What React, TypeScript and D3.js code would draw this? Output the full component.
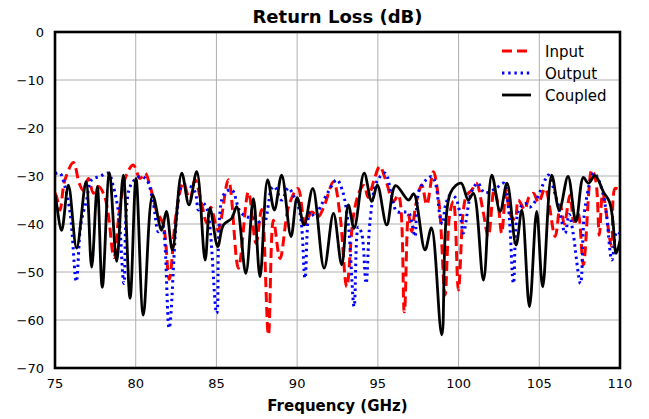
import React, { useEffect } from 'react';
import * as d3 from 'd3';

// frequency (GHz), return loss (dB)
const inputData: [number, number][] = [
    [75.0, -33.5], [75.1, -34.3], [75.31, -37.1], [75.6, -31], [76.14, -27.2], [76.5, -31.5],
    [76.75, -33], [77.07, -30.5], [77.38, -33.6], [77.69, -32.2], [78.05, -34], [78.3, -38],
    [78.65, -47], [79.0, -37], [79.4, -30], [79.85, -27.7], [80.27, -30.5], [80.58, -29.4],
    [80.9, -32.2], [81.3, -37.4], [81.7, -40], [82.08, -51.5], [82.5, -38], [82.95, -31.5],
    [83.36, -35], [83.67, -30.8], [84.1, -36], [84.4, -39.8], [84.65, -36.5], [85.1, -41.3],
    [85.74, -30.8], [86.36, -49.2], [86.98, -33.3], [87.45, -44], [87.8, -37], [88.22, -63.1],
    [88.53, -39.2], [88.94, -47.2], [89.5, -36], [90.05, -32.6], [90.5, -40], [90.9, -37.5],
    [91.3, -38.5], [91.7, -36], [92.25, -31.2], [92.65, -38], [93.07, -53.1], [93.5, -38],
    [93.9, -32.9], [94.15, -32], [94.4, -34.5], [94.75, -31], [95.12, -28], [95.5, -31],
    [95.96, -35.3], [96.27, -34], [96.64, -58.3], [96.9, -38.1], [97.1, -41.6], [97.35, -36],
    [97.72, -31.9], [98.03, -36], [98.44, -29.1], [98.8, -36], [99.16, -54.8], [99.45, -38],
    [99.68, -35.3], [99.99, -53.75], [100.3, -37], [100.5, -34], [100.8, -33], [101.1, -31.5],
    [101.5, -37], [101.84, -42.6], [102.2, -33], [102.45, -36], [102.67, -41.9], [102.95, -33],
    [103.2, -38], [103.5, -39], [103.7, -35], [104.1, -37], [104.35, -34.5], [104.64, -33.6],
    [104.95, -35.5], [105.36, -32.6], [105.98, -42.6], [106.3, -36], [106.55, -40], [106.9, -34],
    [107.15, -39.5], [107.4, -37.8], [107.73, -48.5], [108.25, -28.75], [108.5, -31], [108.72, -42.3],
    [108.93, -33.6], [109.48, -44.7], [109.7, -32.6], [110.0, -33],
];

const outputData: [number, number][] = [
    [75.0, -29.5], [75.3, -29.4], [75.6, -32], [75.95, -38], [76.32, -52], [76.6, -40],
    [76.96, -35], [77.27, -30.8], [77.79, -30.1], [78.3, -29.4], [78.6, -32], [78.95, -38],
    [79.27, -52.4], [79.65, -32.2], [80.27, -30.1], [80.68, -30.8], [81.09, -35.7], [81.4, -41.6],
    [81.65, -40], [82.07, -61.7], [82.54, -38.5], [82.85, -32.2], [83.3, -32], [83.67, -33.3],
    [83.88, -37.1], [84.1, -35.5], [84.4, -36.7], [85.02, -58.6], [85.43, -34], [85.95, -32.9],
    [86.46, -37.4], [86.9, -38.5], [87.4, -38.8], [87.9, -40.2], [88.42, -32.6], [88.6, -32.2],
    [89.04, -35], [89.46, -32.5], [89.76, -34], [90.18, -37.8], [90.49, -51.3], [90.8, -37.4],
    [91.1, -38.5], [91.5, -36], [91.93, -33.3], [92.45, -30.8], [92.8, -33], [93.17, -40.2],
    [93.53, -57.2], [93.79, -40.6], [94.0, -42], [94.27, -52.4], [94.52, -39.2], [94.93, -31.2],
    [95.45, -29.4], [95.86, -34.3], [96.17, -37.4], [96.6, -37.5], [96.9, -37.6], [97.1, -39.5],
    [97.3, -42.6], [97.6, -32.6], [98.34, -30.1], [98.6, -32], [98.85, -38.5], [99.0, -40],
    [99.2, -36], [99.47, -34], [99.8, -34.5], [100.1, -38.1], [100.3, -41.9], [100.8, -33.3],
    [101.2, -31.5], [101.6, -33.5], [102.3, -32.6], [102.8, -31.5], [103.1, -37], [103.4, -52.4],
    [103.7, -37.4], [104.1, -35.7], [104.4, -36.5], [104.8, -35], [105.36, -30.8], [105.56, -29.8],
    [106.0, -34], [106.3, -38], [106.6, -41.9], [106.85, -38], [107.1, -42], [107.55, -52.4],
    [107.84, -36.4], [108.38, -29.4], [108.7, -31], [109.08, -36], [109.5, -47.5], [109.8, -41.6],
    [110.0, -42],
];

const coupledData: [number, number][] = [
    [75.0, -34], [75.06, -35], [75.41, -41.3], [75.83, -31.9], [76.34, -45], [76.92, -31.2],
    [77.27, -49], [77.62, -32.2], [77.93, -53.2], [78.37, -29.3], [78.82, -47.8], [79.23, -29.8],
    [79.65, -55.5], [80.02, -30.5], [80.47, -59], [81.05, -34], [81.6, -41.3], [81.9, -37.4],
    [82.27, -45.4], [82.85, -29.4], [83.3, -36], [83.78, -29.1], [84.3, -47.5], [84.6, -36.7],
    [85.08, -44.7], [85.43, -40.2], [85.95, -38.8], [86.26, -36.4], [86.82, -50.3], [87.29, -34.7],
    [87.7, -51], [88.17, -30.8], [88.59, -37.1], [89.04, -29.8], [89.62, -42.6], [90.0, -34.5],
    [90.43, -40.2], [90.97, -32.6], [91.67, -49.2], [92.25, -37.8], [92.76, -48.5], [93.17, -36],
    [93.53, -40.9], [94.15, -29.4], [94.62, -35.3], [94.97, -31.9], [95.55, -40.2], [96.1, -32],
    [96.9, -35], [97.22, -33.7], [97.92, -45.4], [98.32, -40.8], [98.96, -63.1], [99.5, -33.5],
    [100.15, -31.5], [100.6, -35], [100.92, -33.6], [101.54, -51.7], [102.06, -29.8], [102.57, -37.4],
    [103.0, -31.5], [103.56, -44.4], [103.92, -37.1], [104.39, -57.2], [104.84, -37.4], [105.21, -53.1],
    [105.77, -29.8], [106.24, -37.1], [106.78, -30.1], [107.27, -39.5], [107.73, -30.3], [108.04, -31.5],
    [108.46, -29.9], [108.97, -33.3], [109.34, -35.3], [109.55, -39], [109.76, -46.1], [110.0, -43.5],
];

const xTicks = [75, 80, 85, 90, 95, 100, 105, 110];
const yTicks = [0, -10, -20, -30, -40, -50, -60, -70];

const seriesNames = ['Input', 'Output', 'Coupled'];

const font = 'DejaVu Sans, sans-serif';

const App: React.FC = () => {
    useEffect(() => {
        document.body.style.margin = '0';
    }, []);

    const width = 649;
    const height = 419;
    const left = 55;
    const right = 620;
    const top = 32;
    const bottom = 368;

    const x = d3.scaleLinear().domain([75, 110]).range([left, right]);
    const y = d3.scaleLinear().domain([-70, 0]).range([bottom, top]);

    const line = d3.line<[number, number]>()
        .x(d => x(d[0]))
        .y(d => y(d[1]))
        .curve(d3.curveCatmullRom.alpha(0.5));

    const styles = [
        { data: inputData, stroke: '#ff0000', width: 3, dash: '10,5' },
        { data: outputData, stroke: '#0000ff', width: 3, dash: '2.4,3.8' },
        { data: coupledData, stroke: '#000000', width: 2.8, dash: '' },
    ];

    return (
        <svg width={width} height={height} style={{ display: 'block', background: 'white' }}>
            <defs>
                <clipPath id="plotClip">
                    <rect x={left} y={top} width={right - left} height={bottom - top} />
                </clipPath>
            </defs>

            {/* grid */}
            {xTicks.map(t => (
                <line key={'gx' + t} x1={x(t)} x2={x(t)} y1={top} y2={bottom} stroke="#b0b0b0" strokeWidth={1} />
            ))}
            {yTicks.map(t => (
                <line key={'gy' + t} x1={left} x2={right} y1={y(t)} y2={y(t)} stroke="#b0b0b0" strokeWidth={1} />
            ))}

            {/* series */}
            <g clipPath="url(#plotClip)">
                {styles.map((s, i) => (
                    <path key={i} d={line(s.data) || ''} fill="none" stroke={s.stroke}
                        strokeWidth={s.width} strokeDasharray={s.dash || undefined}
                        strokeLinejoin="round" />
                ))}
            </g>

            {/* frame */}
            <rect x={left} y={top} width={right - left} height={bottom - top}
                fill="none" stroke="black" strokeWidth={2.6} />

            {/* tick labels */}
            {xTicks.map(t => (
                <text key={'tx' + t} x={x(t)} y={bottom + 20} textAnchor="middle"
                    fontFamily={font} fontSize={13}>{t}</text>
            ))}
            {yTicks.map(t => (
                <text key={'ty' + t} x={left - 11} y={y(t) + 4.5} textAnchor="end"
                    fontFamily={font} fontSize={13}>{t === 0 ? '0' : '\u2212' + Math.abs(t)}</text>
            ))}

            <text x={(left + right) / 2} y={22.5} textAnchor="middle" fontFamily={font}
                fontSize={18} fontWeight="bold">Return Loss (dB)</text>
            <text x={(left + right) / 2} y={411} textAnchor="middle" fontFamily={font}
                fontSize={15} fontWeight="bold">Frequency (GHz)</text>

            {/* legend */}
            {styles.map((s, i) => (
                <g key={'lg' + i} transform={`translate(0, ${51 + i * 22})`}>
                    <line x1={502} x2={531} y1={0} y2={0} stroke={s.stroke} strokeWidth={s.width}
                        strokeDasharray={s.dash || undefined} />
                    <text x={545} y={5.5} fontFamily={font} fontSize={15}>{seriesNames[i]}</text>
                </g>
            ))}
        </svg>
    );
};

export default App;
